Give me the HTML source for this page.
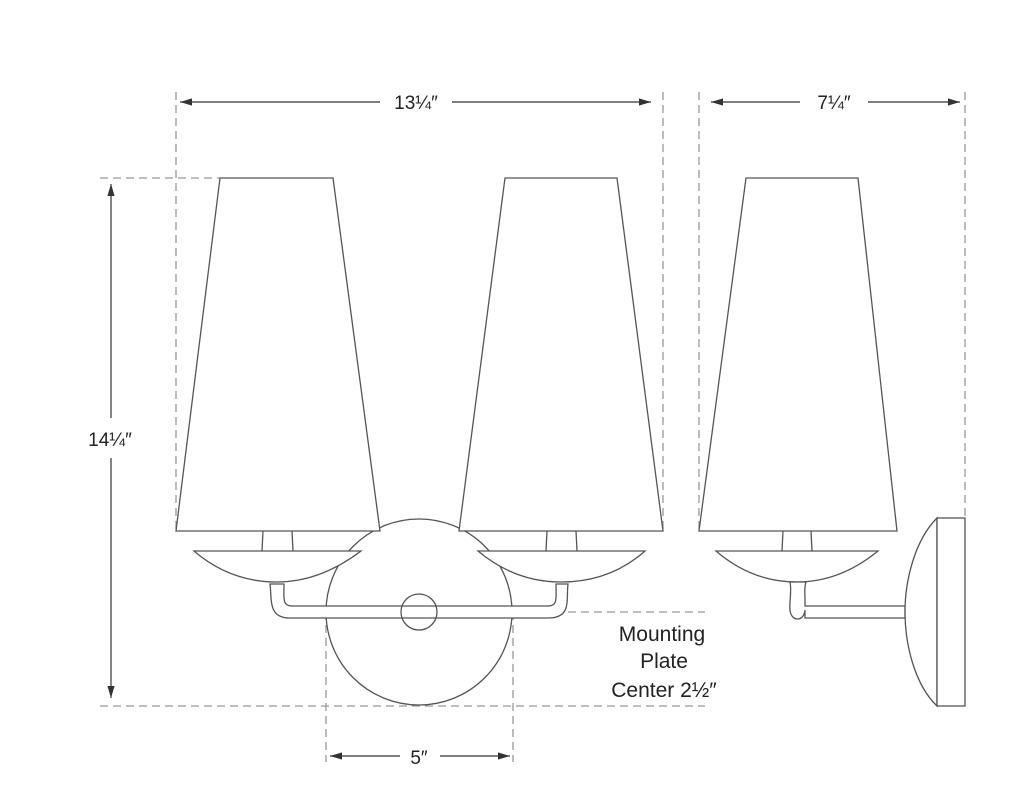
<!DOCTYPE html><html><head><style>body{margin:0;background:#fff}svg{display:block}text{font-family:"Liberation Sans",sans-serif;fill:#222}</style></head><body>
<svg width="1024" height="809" viewBox="0 0 1024 809" xmlns="http://www.w3.org/2000/svg">
<defs><marker id="a" markerWidth="10" markerHeight="8" refX="10" refY="4" orient="auto-start-reverse"><path d="M0,1 L10,4 L0,7 Z" fill="#333"/></marker></defs>
<g stroke="#999" stroke-width="1.3" stroke-dasharray="8,5" fill="none">
<line x1="100" y1="178" x2="220" y2="178"/><line x1="100" y1="706" x2="705" y2="706"/><line x1="425" y1="612" x2="705" y2="612"/>
<line x1="176" y1="92" x2="176" y2="531"/><line x1="663" y1="92" x2="663" y2="531"/><line x1="699" y1="92" x2="699" y2="531"/><line x1="965" y1="92" x2="965" y2="520"/>
<line x1="326" y1="612" x2="326" y2="762"/><line x1="513" y1="612" x2="513" y2="762"/>
</g>
<g stroke="#333" stroke-width="1.2" fill="none">
<line x1="180" y1="102" x2="380" y2="102" marker-start="url(#a)"/><line x1="452" y1="102" x2="651" y2="102" marker-end="url(#a)"/>
<line x1="711" y1="102" x2="800" y2="102" marker-start="url(#a)"/><line x1="868" y1="102" x2="960" y2="102" marker-end="url(#a)"/>
<line x1="111" y1="184" x2="111" y2="418" marker-start="url(#a)"/><line x1="111" y1="458" x2="111" y2="698" marker-end="url(#a)"/>
<line x1="330" y1="756" x2="400" y2="756" marker-start="url(#a)"/><line x1="440" y1="756" x2="510" y2="756" marker-end="url(#a)"/>
</g>
<g stroke="#555" stroke-width="1.3" fill="#fff">
<circle cx="419" cy="612" r="93"/>
<path d="M270,584 C272,600 268,618 290,618 L548,618 C572,618 566,600 568,584 L556,584 C556,598 558,606 548,606 L292,606 C282,606 284,598 284,584 Z"/>
<circle cx="419" cy="612" r="18" fill="none"/>
<path d="M220,178 L333,178 L380,531 L176,531 Z"/><path d="M505,178 L617,178 L663,531 L459,531 Z"/><path d="M746,178 L858,178 L897,531 L699,531 Z"/>
<path d="M263,531 L262,551 M292,531 L293,551" fill="none"/><path d="M547,531 L546,551 M576,531 L577,551" fill="none"/><path d="M783,531 L782,551 M811,531 L812,551" fill="none"/>
<path d="M194,551 L361,551 Q320,582 277,582 Q230,582 194,551 Z"/>
<path d="M478,551 L645,551 Q610,582 561,582 Q515,582 478,551 Z"/>
<path d="M716,551 L878,551 Q840,582 797,582 Q752,582 716,551 Z"/>
<path d="M790,582 C792,592 789,602 790,610 C791,622 804,622 805,610 L805,618 L905,618 L905,606 L805,606 L805,600 C805,592 804,588 806,582 Z"/>
<path d="M937,518 C915,540 905,580 905,612 C905,645 915,685 937,706 Z"/>
<rect x="937" y="518" width="28" height="188"/>
</g>
<g font-size="19" text-anchor="middle">
<text x="416" y="109">13¼″</text><text x="834" y="109">7¼″</text><text x="110" y="446">14¼″</text><text x="419" y="764">5″</text>
<text x="662" y="641" font-size="21">Mounting</text><text x="664" y="668" font-size="21">Plate</text><text x="664" y="697" font-size="21">Center 2½″</text>
</g>
</svg></body></html>
